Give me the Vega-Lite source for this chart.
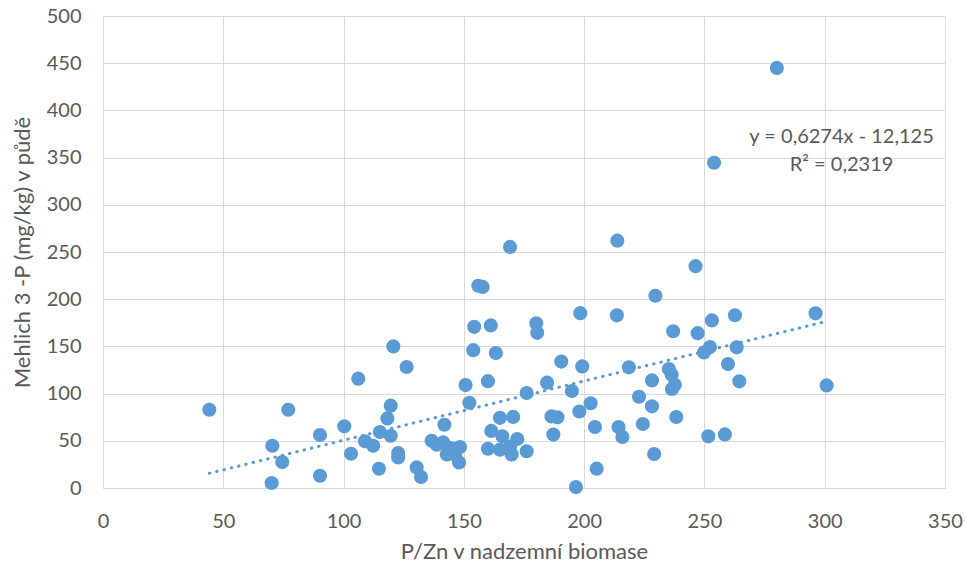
{
  "$schema": "https://vega.github.io/schema/vega-lite/v6.json",
  "width": 842,
  "height": 472,
  "autosize": {"type": "none"},
  "padding": {"left": 103, "top": 16, "right": 20, "bottom": 84},
  "background": "white",
  "config": {
    "view": {"stroke": null},
    "font": "Lato",
    "axis": {
      "labelFont": "Lato",
      "titleFont": "Lato",
      "labelColor": "#595959",
      "titleColor": "#595959",
      "labelFontSize": 20,
      "titleFontSize": 22,
      "titleFontWeight": "normal",
      "gridColor": "#D9D9D9",
      "gridWidth": 1,
      "domainColor": "#D9D9D9",
      "ticks": false
    }
  },
  "datasets": {
    "points": [
      {"x": 44.2, "y": 82.9}, {"x": 70.4, "y": 44.8}, {"x": 70.1, "y": 5.3}, {"x": 74.5, "y": 27.5},
      {"x": 77.0, "y": 82.9}, {"x": 90.2, "y": 56.1}, {"x": 90.2, "y": 13.0}, {"x": 100.3, "y": 65.3},
      {"x": 103.1, "y": 36.3}, {"x": 106.1, "y": 115.8}, {"x": 108.9, "y": 49.4}, {"x": 112.3, "y": 44.8},
      {"x": 115.1, "y": 59.3}, {"x": 114.7, "y": 20.4}, {"x": 118.2, "y": 73.7}, {"x": 119.6, "y": 87.2},
      {"x": 119.6, "y": 55.4}, {"x": 120.7, "y": 150.0}, {"x": 122.7, "y": 37.1}, {"x": 122.7, "y": 32.4},
      {"x": 126.2, "y": 128.2}, {"x": 130.4, "y": 21.8}, {"x": 132.2, "y": 11.7}, {"x": 136.6, "y": 50.1},
      {"x": 138.7, "y": 45.9}, {"x": 141.4, "y": 48.3}, {"x": 141.9, "y": 67.0}, {"x": 142.9, "y": 35.5},
      {"x": 144.6, "y": 42.4}, {"x": 146.3, "y": 35.3}, {"x": 148.4, "y": 43.4}, {"x": 148.0, "y": 27.1},
      {"x": 150.7, "y": 109.0}, {"x": 152.3, "y": 90.3}, {"x": 153.9, "y": 146.0}, {"x": 154.3, "y": 170.7},
      {"x": 156.0, "y": 214.3}, {"x": 157.8, "y": 213.0}, {"x": 160.0, "y": 113.2}, {"x": 160.0, "y": 41.6},
      {"x": 161.2, "y": 172.2}, {"x": 161.4, "y": 60.5}, {"x": 163.3, "y": 143.0}, {"x": 165.0, "y": 74.3},
      {"x": 166.0, "y": 54.8}, {"x": 165.0, "y": 40.6}, {"x": 169.2, "y": 44.0}, {"x": 169.9, "y": 35.6},
      {"x": 172.2, "y": 51.9}, {"x": 176.1, "y": 38.9}, {"x": 170.5, "y": 75.3}, {"x": 169.2, "y": 255.4},
      {"x": 176.1, "y": 100.6}, {"x": 180.1, "y": 174.5}, {"x": 180.5, "y": 164.4}, {"x": 184.6, "y": 111.6},
      {"x": 186.4, "y": 75.8}, {"x": 187.2, "y": 56.6}, {"x": 188.9, "y": 75.0}, {"x": 190.5, "y": 133.9},
      {"x": 194.9, "y": 102.8}, {"x": 196.6, "y": 1.0}, {"x": 198.0, "y": 81.0}, {"x": 198.4, "y": 185.2},
      {"x": 199.2, "y": 128.8}, {"x": 202.7, "y": 89.8}, {"x": 204.5, "y": 64.6}, {"x": 205.2, "y": 20.5},
      {"x": 213.8, "y": 262.0}, {"x": 213.6, "y": 182.9}, {"x": 214.3, "y": 64.6}, {"x": 215.9, "y": 54.0},
      {"x": 218.6, "y": 127.8}, {"x": 222.8, "y": 96.7}, {"x": 224.4, "y": 67.8}, {"x": 228.2, "y": 86.5},
      {"x": 228.2, "y": 114.0}, {"x": 229.1, "y": 36.0}, {"x": 229.6, "y": 203.7}, {"x": 235.2, "y": 126.0},
      {"x": 236.4, "y": 120.0}, {"x": 237.7, "y": 109.4}, {"x": 236.5, "y": 104.9}, {"x": 237.0, "y": 166.0},
      {"x": 238.3, "y": 75.2}, {"x": 246.3, "y": 235.0}, {"x": 247.2, "y": 164.0}, {"x": 249.8, "y": 143.6},
      {"x": 251.6, "y": 54.7}, {"x": 252.3, "y": 149.3}, {"x": 253.1, "y": 177.5}, {"x": 254.0, "y": 344.5},
      {"x": 258.5, "y": 56.8}, {"x": 259.8, "y": 131.3}, {"x": 262.7, "y": 183.0}, {"x": 263.4, "y": 149.0},
      {"x": 264.5, "y": 113.0}, {"x": 280.1, "y": 445.0}, {"x": 296.2, "y": 185.0}, {"x": 300.8, "y": 108.7}
    ],
    "trend": [
      {"x": 44.2, "y": 15.6},
      {"x": 300.8, "y": 176.6}
    ],
    "eq": [
      {"x": 307, "y": 372, "label": "y = 0,6274x - 12,125"},
      {"x": 307, "y": 342, "label": "R² = 0,2319"}
    ]
  },
  "layer": [
    {
      "data": {"name": "points"},
      "mark": {"type": "point", "filled": true, "shape": "circle", "size": 200, "color": "#5B9BD5", "opacity": 1},
      "encoding": {
        "x": {
          "field": "x", "type": "quantitative",
          "scale": {"domain": [0, 350], "nice": false},
          "axis": {"title": "P/Zn v nadzemní biomase", "values": [0, 50, 100, 150, 200, 250, 300, 350], "labelPadding": 23, "titlePadding": 10, "labelFlush": false}
        },
        "y": {
          "field": "y", "type": "quantitative",
          "scale": {"domain": [0, 500], "nice": false},
          "axis": {"title": "Mehlich 3 -P (mg/kg) v půdě", "values": [0, 50, 100, 150, 200, 250, 300, 350, 400, 450, 500], "labelPadding": 22, "titlePadding": 12, "domain": false, "labelFlush": false}
        }
      }
    },
    {
      "data": {"name": "trend"},
      "mark": {"type": "line", "color": "#5B9BD5", "strokeWidth": 3, "strokeDash": [0.5, 7], "strokeCap": "round"},
      "encoding": {
        "x": {"field": "x", "type": "quantitative"},
        "y": {"field": "y", "type": "quantitative"}
      }
    },
    {
      "data": {"name": "eq"},
      "mark": {"type": "text", "font": "Lato", "fontSize": 20, "color": "#595959", "align": "center", "baseline": "middle"},
      "encoding": {
        "x": {"field": "x", "type": "quantitative"},
        "y": {"field": "y", "type": "quantitative"},
        "text": {"field": "label"}
      }
    }
  ]
}
